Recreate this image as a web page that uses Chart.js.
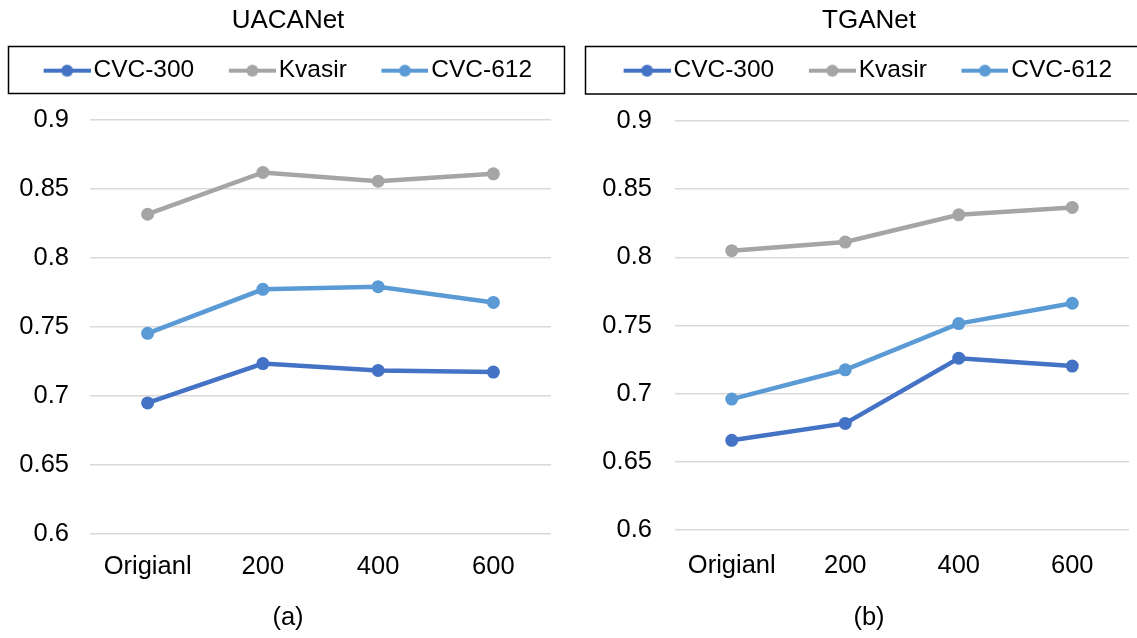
<!DOCTYPE html>
<html><head><meta charset="utf-8">
<script src="https://cdn.jsdelivr.net/npm/chart.js@4.4.1/dist/chart.umd.min.js"></script>
<style>
html,body{margin:0;padding:0;background:#fff;}
#wrap{position:relative;width:1137px;height:638px;overflow:hidden;background:#fff;}
canvas{position:absolute;top:0;}
#c1{left:0;}
#c2{left:570px;}
</style></head><body>
<div id="wrap"><canvas id="c1" width="576" height="638"></canvas><canvas id="c2" width="567" height="638"></canvas></div>
<script>
// ---- data ----
const categories = ['Origianl', '200', '400', '600'];
const seriesNames = ['CVC-300', 'Kvasir', 'CVC-612'];
const seriesColors = ['#4472C4', '#A5A5A5', '#5B9BD5'];
const uacanetCVC300 = [0.695, 0.7235, 0.7185, 0.7173];
const uacanetKvasir = [0.8317, 0.862, 0.8556, 0.861];
const uacanetCVC612 = [0.7454, 0.7773, 0.7792, 0.7678];
const tganetCVC300 = [0.6658, 0.6782, 0.726, 0.7202];
const tganetKvasir = [0.8049, 0.8112, 0.8312, 0.8366];
const tganetCVC612 = [0.696, 0.7175, 0.7514, 0.7663];
const yMin = 0.6, yMax = 0.9, yStep = 0.05;

Chart.defaults.font.family = '"Liberation Sans", Arial, sans-serif';
Chart.defaults.color = '#000';

// legend swatch: line with a dot, drawn on the right part of a wider transparent image
function legendImage(color) {
  const c = document.createElement('canvas');
  c.width = 86; c.height = 14;
  const g = c.getContext('2d');
  g.strokeStyle = color; g.lineWidth = 4; g.lineCap = 'butt';
  g.beginPath(); g.moveTo(39, 7); g.lineTo(86, 7); g.stroke();
  g.fillStyle = color;
  g.beginPath(); g.arc(62.5, 7, 6, 0, Math.PI * 2); g.fill();
  return c;
}
const legendImgs = seriesColors.map(legendImage);

const boxPlugin = {
  id: 'legendBox',
  afterLayout(chart, args, opts) {
    const lg = chart.legend;
    if (lg && opts.shift) { lg.left += opts.shift; lg.right += opts.shift; }
  },
  afterDraw(chart, args, opts) {
    const ctx = chart.ctx;
    ctx.save();
    ctx.strokeStyle = '#000';
    ctx.lineWidth = 1.5;
    ctx.strokeRect(opts.x, opts.y, opts.w, opts.h);
    ctx.restore();
  }
};

function makeChart(canvas, cfg) {
  const datasets = cfg.values.map((vals, i) => ({
    label: seriesNames[i],
    data: vals,
    borderColor: seriesColors[i],
    backgroundColor: seriesColors[i],
    borderWidth: 4.5,
    pointRadius: 6.5,
    pointBorderWidth: 0,
    pointBackgroundColor: seriesColors[i],
    tension: 0,
    xAxisID: 'x',
    yAxisID: 'y'
  }));
  return new Chart(canvas, {
    type: 'line',
    data: { labels: categories, datasets },
    plugins: [boxPlugin],
    options: {
      responsive: false,
      animation: false,
      events: [],
      layout: { padding: { left: cfg.padLeft, right: 0, top: 0, bottom: 0 } },
      plugins: {
        legendBox: cfg.box,
        title: {
          display: true, text: cfg.title, color: '#000',
          font: { size: 26, weight: 'normal', lineHeight: 0.88 },
          padding: { top: 9.5, bottom: 21 }
        },
        subtitle: {
          display: true, text: cfg.caption, position: 'bottom', color: '#000',
          font: { size: 25.5, weight: 'normal', lineHeight: 1.2 },
          padding: { top: 0, bottom: 4.7 }
        },
        legend: {
          display: true, position: 'top', align: 'center',
          labels: {
            usePointStyle: true, pointStyleWidth: 67.25, padding: 5,
            color: '#000', font: { size: 24.5 },
            generateLabels: (chart) => chart.data.datasets.map((ds, i) => ({
              text: ds.label, fillStyle: ds.borderColor, strokeStyle: ds.borderColor,
              lineWidth: 0, pointStyle: legendImgs[i], datasetIndex: i, hidden: false, fontColor: '#000'
            }))
          }
        },
        tooltip: { enabled: false }
      },
      scales: {
        x: {
          type: 'category', position: 'bottom', offset: true,
          grid: { display: false }, border: { display: false },
          ticks: { color: '#000', font: { size: 25.5 }, padding: cfg.xPad, maxRotation: 0 },
          afterFit: (s) => { s.height = cfg.xHeight; }
        },
        xTop: {
          type: 'category', position: 'top', display: true,
          grid: { display: false }, border: { display: false }, ticks: { display: false },
          afterFit: (s) => { s.height = cfg.topSpace; }
        },
        y: {
          type: 'linear', position: 'left', min: yMin, max: yMax,
          grid: { color: '#D9D9D9', lineWidth: 1.5, drawTicks: false },
          border: { display: false },
          ticks: {
            stepSize: yStep, color: '#000', font: { size: 25.5 }, padding: cfg.yPad,
            callback: (v) => String(Number(v.toFixed(2)))
          },
          afterFit: (s) => { s.width = cfg.yWidth; }
        },
        yRight: {
          type: 'linear', position: 'right', display: true,
          grid: { display: false }, border: { display: false }, ticks: { display: false },
          afterFit: (s) => { s.width = cfg.rightSpace; }
        }
      }
    }
  });
}

makeChart(document.getElementById('c1'), {
  title: 'UACANet', caption: '(a)',
  values: [uacanetCVC300, uacanetKvasir, uacanetCVC612],
  padLeft: 0, yWidth: 90, yPad: 21, rightSpace: 25, topSpace: 27.1, xHeight: 68.7, xPad: 10,
  box: { x: 8.5, y: 46.5, w: 556, h: 47, shift: -15 }
});
makeChart(document.getElementById('c2'), {
  title: 'TGANet', caption: '(b)',
  values: [tganetCVC300, tganetKvasir, tganetCVC612],
  padLeft: 31, yWidth: 74, yPad: 23, rightSpace: 8, topSpace: 28.1, xHeight: 72.7, xPad: 13,
  box: { x: 15.5, y: 46.5, w: 600, h: 47.5, shift: -16 }
});
</script>
</body></html>
